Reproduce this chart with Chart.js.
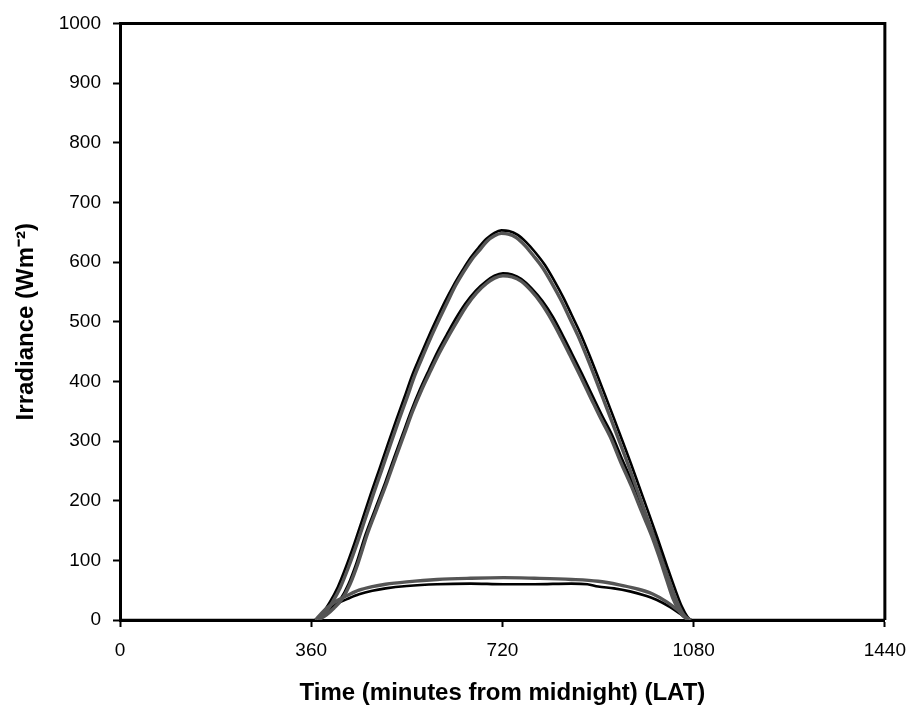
<!DOCTYPE html>
<html>
<head>
<meta charset="utf-8">
<script src="https://cdn.jsdelivr.net/npm/chart.js@4.4.1/dist/chart.umd.min.js"></script>
<style>
  html, body { margin: 0; padding: 0; background: #fff; }
  #wrap { width: 918px; height: 712px; }
</style>
</head>
<body>
<div id="wrap"><canvas id="chart" width="918" height="712"></canvas></div>
<script>
// x ticks (minutes from midnight)
const xTicks = [0, 360, 720, 1080, 1440];

// upper pair (black + grey)
const upBlackMin = [0, 360, 367, 380, 395, 410, 425, 440, 455, 472, 488, 504, 520, 535, 550, 566, 582, 597, 612, 628, 644, 659, 675, 690, 705, 718, 732, 748, 765, 782, 800, 818, 835, 850, 866, 882, 898, 914, 930, 946, 962, 978, 995, 1012, 1030, 1045, 1058, 1068, 1076, 1440];
const upBlackVal = [0, 0, 0, 10, 30, 55, 88, 125, 165, 211, 252, 294, 335, 372, 410, 444, 477, 506, 534, 561, 585, 606, 624, 639, 649, 653, 652, 646, 633, 616, 595, 568, 540, 512, 482, 448, 412, 375, 338, 300, 262, 222, 180, 137, 90, 52, 22, 6, 0, 0];

const upGreyMin = [372, 385, 400, 415, 430, 445, 460, 477, 493, 509, 525, 540, 555, 571, 587, 602, 617, 632, 648, 662, 677, 691, 705, 718, 731, 746, 762, 778, 796, 814, 831, 846, 862, 878, 894, 910, 926, 942, 958, 974, 991, 1008, 1026, 1041, 1054, 1064, 1072];
const upGreyVal = [0, 10, 30, 55, 88, 125, 165, 211, 252, 294, 335, 372, 410, 444, 477, 506, 534, 561, 585, 604, 620, 635, 644, 648, 647, 641, 628, 611, 590, 563, 535, 507, 477, 443, 407, 370, 333, 295, 257, 217, 175, 132, 85, 48, 20, 5, 0];

// middle pair (black + grey)
const midBlackMin = [370, 385, 400, 415, 430, 445, 463, 480, 500, 516, 532, 548, 565, 582, 598, 615, 632, 650, 670, 690, 705, 721, 738, 755, 775, 795, 815, 833, 850, 870, 890, 908, 926, 946, 966, 985, 1004, 1018, 1032, 1045, 1058, 1068, 1075];
const midBlackVal = [0, 8, 20, 35, 60, 95, 145, 185, 232, 272, 311, 350, 387, 420, 450, 478, 505, 530, 552, 568, 577, 581, 579, 572, 556, 535, 508, 478, 448, 412, 375, 342, 311, 268, 228, 186, 145, 110, 72, 38, 14, 4, 0];

const midGreyMin = [373, 388, 403, 418, 433, 448, 466, 483, 503, 519, 535, 551, 568, 585, 601, 618, 635, 652, 671, 690, 705, 721, 738, 755, 774, 793, 812, 830, 847, 867, 887, 905, 923, 943, 963, 982, 1001, 1015, 1029, 1042, 1055, 1065, 1072];
const midGreyVal = [0, 8, 20, 35, 60, 95, 145, 185, 232, 272, 311, 350, 386, 418, 447, 475, 501, 526, 548, 564, 573, 577, 575, 568, 552, 531, 504, 474, 444, 408, 371, 338, 307, 264, 224, 182, 141, 106, 68, 34, 12, 3, 0];

// lower pair (black + grey)
const lowBlackMin = [368, 380, 395, 410, 430, 450, 475, 500, 540, 597, 660, 722, 780, 850, 880, 900, 930, 960, 985, 1010, 1035, 1055, 1068, 1075];
const lowBlackVal = [0, 10, 20, 28, 36, 43, 49, 53, 57, 60, 61, 60, 60, 61, 60, 56, 53, 48, 42, 34, 22, 10, 2, 0];

const lowGreyMin = [368, 380, 395, 410, 430, 450, 475, 500, 540, 597, 660, 722, 780, 850, 900, 940, 970, 1002, 1030, 1055, 1068, 1075];
const lowGreyVal = [0, 12, 24, 33, 42, 50, 56, 60, 64, 68, 70, 71, 70, 68, 65, 59, 53, 44, 30, 13, 3, 0];

function pts(mins, vals) {
  return mins.map((m, i) => ({ x: m, y: vals[i] }));
}

function line(mins, vals, colour, width) {
  return {
    data: pts(mins, vals), borderColor: colour, borderWidth: width,
    pointRadius: 0, cubicInterpolationMode: 'monotone', fill: false
  };
}
const black = (m, v) => line(m, v, '#000', 2.6);
// grey series look hollow in the scan: dark rim with a light core
const greyRim = (m, v) => line(m, v, '#555', 3.4);
const greyCore = (m, v) => line(m, v, '#dcdcdc', 1.3);

const frame = {
  id: 'frame',
  afterDatasetsDraw(chart) {
    const a = chart.chartArea;
    const c = chart.ctx;
    c.save();
    c.strokeStyle = '#000';
    c.lineWidth = 3;
    c.beginPath();
    c.moveTo(a.left, a.top);
    c.lineTo(a.right, a.top);
    c.lineTo(a.right, a.bottom);
    c.stroke();
    c.restore();
  }
};

Chart.defaults.font.family = "'Liberation Sans', Arial, sans-serif";
Chart.defaults.color = '#000';

new Chart(document.getElementById('chart'), {
  type: 'line',
  data: {
    datasets: [
      greyRim(upGreyMin, upGreyVal), greyCore(upGreyMin, upGreyVal),
      greyRim(midGreyMin, midGreyVal), greyCore(midGreyMin, midGreyVal),
      greyRim(lowGreyMin, lowGreyVal), greyCore(lowGreyMin, lowGreyVal),
      black(upBlackMin, upBlackVal),
      black(midBlackMin, midBlackVal),
      black(lowBlackMin, lowBlackVal)
    ]
  },
  options: {
    responsive: false,
    animation: false,
    devicePixelRatio: 1,
    layout: { padding: { top: 21, right: 27, left: 0, bottom: 0 } },
    plugins: { legend: { display: false }, tooltip: { enabled: false } },
    scales: {
      x: {
        type: 'linear',
        min: 0, max: 1440,
        afterBuildTicks: s => { s.ticks = xTicks.map(v => ({ value: v })); },
        afterFit: s => { s.height = 92; },
        border: { color: '#000', width: 3 },
        grid: { drawOnChartArea: false, tickLength: 7, tickColor: '#000', tickWidth: 2 },
        ticks: { font: { size: 19 }, padding: 12, maxRotation: 0, callback: v => String(v) },
        title: { display: true, text: 'Time (minutes from midnight) (LAT)', font: { size: 24, weight: 'bold' }, padding: { top: 0, bottom: 4 } }
      },
      y: {
        min: 0, max: 1000,
        afterFit: s => { s.width = 120; },
        border: { color: '#000', width: 3 },
        grid: { drawOnChartArea: false, tickLength: 7, tickColor: '#000', tickWidth: 2 },
        ticks: { stepSize: 100, font: { size: 19 }, padding: 12, callback: v => String(v) },
        title: { display: true, text: 'Irradiance (Wm\u207B\u00B2)', font: { size: 24, weight: 'bold' }, padding: { top: 12, bottom: 0 } }
      }
    }
  },
  plugins: [frame]
});
</script>
</body>
</html>
